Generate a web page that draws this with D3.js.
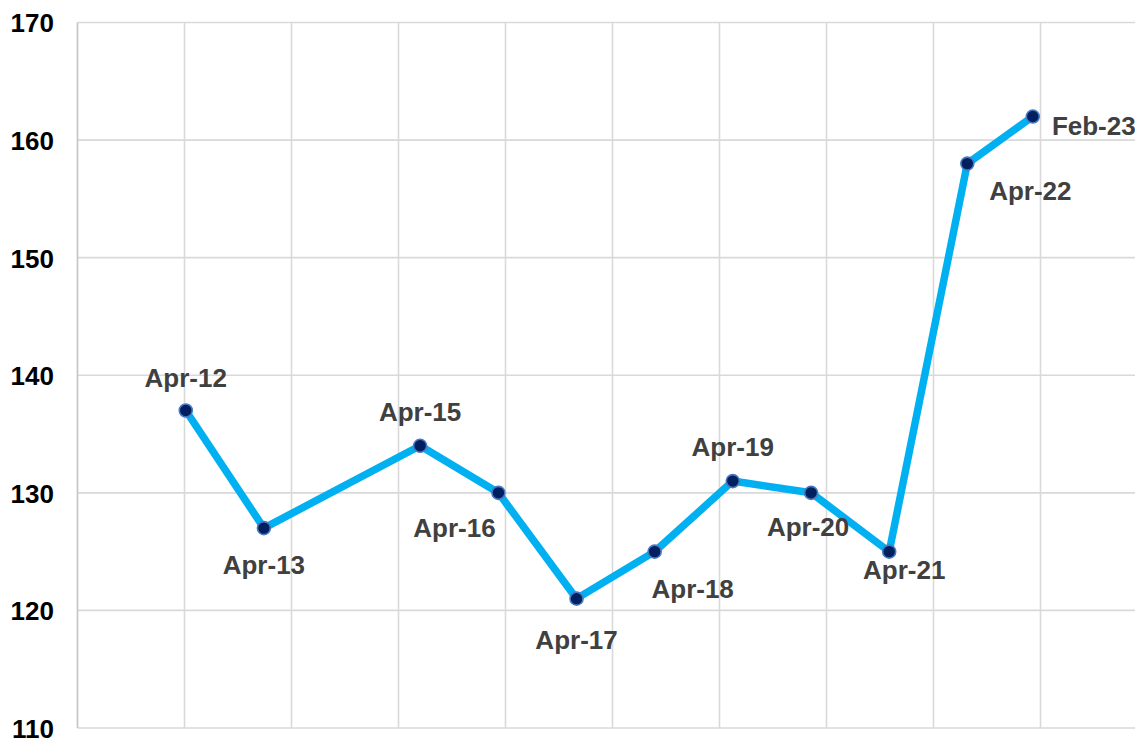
<!DOCTYPE html>
<html>
<head>
<meta charset="utf-8">
<script src="https://cdn.jsdelivr.net/npm/d3@7"></script>
<style>
  html, body { margin: 0; padding: 0; background: #fff; overflow: hidden; }
  svg { display: block; }
</style>
</head>
<body>
<svg id="chart" width="1135" height="738"></svg>
<script>
// ---- data ----
const labels = ["Apr-12","Apr-13","Apr-15","Apr-16","Apr-17","Apr-18","Apr-19","Apr-20","Apr-21","Apr-22","Feb-23"];
const dates  = ["2012-04-01","2013-04-01","2015-04-01","2016-04-01","2017-04-01","2018-04-01","2019-04-01","2020-04-01","2021-04-01","2022-04-01","2023-02-01"];
const values = [137, 127, 134, 130, 121, 125, 131, 130, 125, 158, 162];
const yTicks = [110, 120, 130, 140, 150, 160, 170];

(function () {
// ---- layout ----
const W = 1135, H = 738;
const plotLeft = 77.5, plotTop = 22.5, plotBottom = 728;
const parse = d3.timeParse("%Y-%m-%d");
const axisStart = parse("2010-11-12");
const majorDays = 500;
const axisEnd = d3.timeDay.offset(axisStart, majorDays * 10);

const x = d3.scaleTime().domain([axisStart, axisEnd]).range([plotLeft, plotLeft + 1070]);
const y = d3.scaleLinear().domain([110, 170]).range([plotBottom, plotTop]);

const svg = d3.select("#chart");

// vertical gridlines every 500 days (skip the axis line itself)
const xGrid = d3.range(1, 11).map(k => d3.timeDay.offset(axisStart, majorDays * k));
svg.append("g").selectAll("line").data(xGrid).join("line")
  .attr("x1", d => x(d)).attr("x2", d => x(d))
  .attr("y1", plotTop).attr("y2", plotBottom)
  .attr("stroke", "#d9d9d9").attr("stroke-width", 1.6);

// horizontal gridlines
svg.append("g").selectAll("line").data(yTicks).join("line")
  .attr("x1", plotLeft).attr("x2", W + 20)
  .attr("y1", d => y(d)).attr("y2", d => y(d))
  .attr("stroke", "#d9d9d9").attr("stroke-width", 1.6);

// left axis line
svg.append("line")
  .attr("x1", plotLeft).attr("x2", plotLeft).attr("y1", plotTop).attr("y2", plotBottom)
  .attr("stroke", "#c8c8c8").attr("stroke-width", 1.8);

// y-axis labels
const yAxis = d3.axisLeft(y).tickValues(yTicks).tickSize(0).tickPadding(0);
const yg = svg.append("g").attr("transform", "translate(54,0)").call(yAxis);
yg.select(".domain").remove();
yg.selectAll("text")
  .attr("x", 0).attr("dy", "0.36em")
  .style("font-family", "'Liberation Sans', Arial, sans-serif")
  .style("font-weight", "bold").style("font-size", "26px")
  .attr("fill", "#000");

// line
const pts = dates.map((d, i) => ({ date: parse(d), v: values[i], label: labels[i] }));
svg.append("path").datum(pts)
  .attr("fill", "none").attr("stroke", "#00b0f0").attr("stroke-width", 7.5)
  .attr("stroke-linejoin", "round").attr("stroke-linecap", "round")
  .attr("d", d3.line().x(d => x(d.date)).y(d => y(d.v)));

// markers
svg.append("g").selectAll("circle").data(pts).join("circle")
  .attr("cx", d => x(d.date)).attr("cy", d => y(d.v)).attr("r", 6.5)
  .attr("fill", "#002060").attr("stroke", "#4a78c2").attr("stroke-width", 1.6);

// data labels (offset of label centre from its point)
const labelOffsets = [[0,-33],[0,37],[0,-34],[-44,35],[0,41],[38,37],[0,-34],[-3,34],[15,18],[63,27],[61,9]];
svg.append("g").selectAll("text").data(pts).join("text")
  .attr("x", (d, i) => x(d.date) + labelOffsets[i][0])
  .attr("y", (d, i) => y(d.v) + labelOffsets[i][1] + 9)
  .attr("text-anchor", "middle")
  .style("font-family", "'Liberation Sans', Arial, sans-serif")
  .style("font-weight", "bold").style("font-size", "26px")
  .attr("fill", "#404040")
  .text(d => d.label);
})();
</script>
</body>
</html>
